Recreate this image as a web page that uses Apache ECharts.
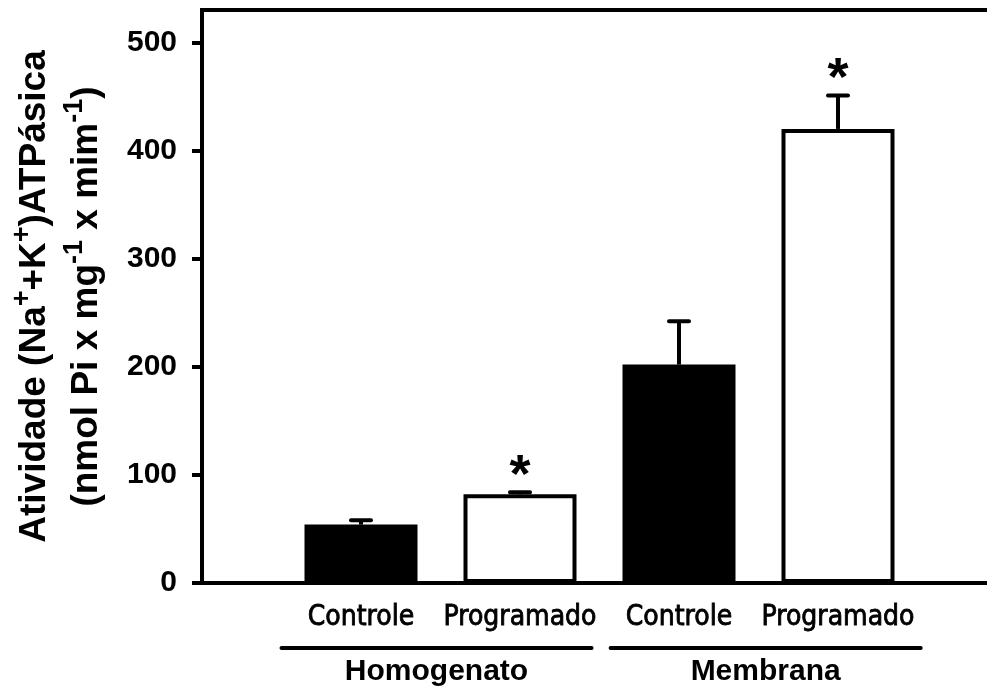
<!DOCTYPE html>
<html>
<head>
<meta charset="utf-8">
<script src="https://cdn.jsdelivr.net/npm/echarts@6/dist/echarts.min.js"></script>
<style>
  html, body { margin: 0; padding: 0; background: #fff; overflow: hidden; }
  #chart { width: 987px; height: 690px; }
</style>
</head>
<body>
<div id="chart"></div>
<script>
// Na+/K+-ATPase activity, mean + SEM per group
const categories = ['Controle', 'Programado', 'Controle', 'Programado'];
const groups = ['Homogenato', 'Membrana'];
const means = [54, 82, 202, 420];
const sem = [4, 2, 40, 31];
const significant = [false, true, false, true];
const barFills = ['#000000', '#ffffff', '#000000', '#ffffff'];
const yTicks = [0, 100, 200, 300, 400, 500];
const yMax = 530;

// bracket spans under each group, in category-index units
const groupSpans = [[0.5, 2.45], [2.57, 4.52]];

const BOLD = 'Liberation Sans, Arial, sans-serif';
const COND = 'DejaVu Sans Condensed, DejaVu Sans, sans-serif';

const chart = echarts.init(document.getElementById('chart'), null, { renderer: 'canvas' });

// one empty slot on each side so the bars sit on ticks 1..4;
// the frame runs past the right edge of the canvas
const xData = [''].concat(categories, ['']);
const barData = ['-'].concat(means.map((v, i) => ({
  value: v,
  itemStyle: { color: barFills[i] }
})), ['-']);
const errData = means.map((v, i) => [i + 1, v, sem[i], significant[i] ? 1 : 0]);

const option = {
  animation: false,
  backgroundColor: '#ffffff',
  grid: {
    left: 202, width: 795, top: 10, bottom: 107,
    containLabel: false,
    outerBoundsMode: 'none',
    show: true, borderColor: '#000', borderWidth: 4, backgroundColor: 'transparent'
  },
  xAxis: {
    type: 'category',
    data: xData,
    boundaryGap: false,
    axisLine: { show: true, lineStyle: { color: '#000', width: 4 } },
    axisTick: { show: false },
    splitLine: { show: false },
    axisLabel: {
      interval: 0,
      color: '#000',
      fontFamily: COND,
      fontSize: 28,
      textBorderColor: '#000',
      textBorderWidth: 0.8,
      margin: 21
    }
  },
  yAxis: {
    type: 'value',
    min: 0,
    max: yMax,
    interval: 100,
    axisLine: { show: true, lineStyle: { color: '#000', width: 4 } },
    axisTick: {
      show: true, inside: false, length: 10,
      lineStyle: { color: '#000', width: 4 },
      customValues: yTicks
    },
    splitLine: { show: false },
    axisLabel: {
      customValues: yTicks,
      color: '#000',
      fontFamily: BOLD,
      fontWeight: 'bold',
      fontSize: 30,
      margin: 25
    }
  },
  series: [
    {
      type: 'bar',
      data: barData,
      barWidth: 113,
      itemStyle: { borderColor: '#000', borderWidth: 4 },
      z: 3
    },
    {
      type: 'custom',
      data: errData,
      z: 4,
      renderItem: function (params, api) {
        const x = api.value(0);
        const m = api.value(1);
        const e = api.value(2);
        const sig = api.value(3);
        const base = api.coord([x, m]);
        const top = api.coord([x, m + e]);
        const capHalf = 10;
        const children = [
          {
            type: 'line',
            shape: { x1: base[0], y1: base[1], x2: top[0], y2: top[1] },
            style: { stroke: '#000', lineWidth: 4 }
          },
          {
            type: 'line',
            shape: { x1: top[0] - capHalf, y1: top[1], x2: top[0] + capHalf, y2: top[1] },
            style: { stroke: '#000', lineWidth: 4, lineCap: 'round' }
          }
        ];
        if (sig) {
          children.push({
            type: 'text',
            x: top[0],
            y: top[1] - 15,
            style: {
              text: '*',
              fill: '#000',
              font: 'bold 54px ' + BOLD,
              align: 'center',
              verticalAlign: 'middle'
            }
          });
        }
        return { type: 'group', children: children };
      }
    }
  ]
};

chart.setOption(option);

// group brackets and names, placed from the category axis scale
const p0 = chart.convertToPixel({ xAxisIndex: 0 }, 0);
const p1 = chart.convertToPixel({ xAxisIndex: 0 }, 1);
const unit = p1 - p0;
const xAt = f => p0 + f * unit;
const lineY = 648;
const nameY = 672;

const graphics = [];
groupSpans.forEach((span, gi) => {
  const a = xAt(span[0]);
  const b = xAt(span[1]);
  graphics.push({
    type: 'line',
    shape: { x1: a, y1: lineY, x2: b, y2: lineY },
    style: { stroke: '#000', lineWidth: 4, lineCap: 'round' }
  });
  graphics.push({
    type: 'text',
    x: (a + b) / 2,
    y: nameY,
    style: {
      text: groups[gi],
      fill: '#000',
      font: 'bold 30px ' + BOLD,
      align: 'center',
      verticalAlign: 'middle'
    }
  });
});

// rotated two-line axis title with superscripts
const titleRich = {
  m: { fontSize: 37, fontWeight: 'bold', fontFamily: BOLD, fill: '#000', lineHeight: 44, verticalAlign: 'bottom' },
  s: { fontSize: 27, fontWeight: 'bold', fontFamily: BOLD, fill: '#000', lineHeight: 30, verticalAlign: 'top' }
};
const plotMidY = chart.convertToPixel({ yAxisIndex: 0 }, yMax / 2);
graphics.push({
  type: 'text',
  x: 31,
  y: plotMidY,
  rotation: Math.PI / 2,
  style: {
    text: '{m|Atividade (Na}{s|+}{m|+K}{s|+}{m|)ATPásica}',
    rich: titleRich,
    align: 'center',
    verticalAlign: 'middle'
  }
});
graphics.push({
  type: 'text',
  x: 83,
  y: plotMidY,
  rotation: Math.PI / 2,
  style: {
    text: '{m|(nmol Pi x mg}{s|-1}{m| x mim}{s|-1}{m|)}',
    rich: titleRich,
    align: 'center',
    verticalAlign: 'middle'
  }
});

chart.setOption({ graphic: graphics });
</script>
</body>
</html>
